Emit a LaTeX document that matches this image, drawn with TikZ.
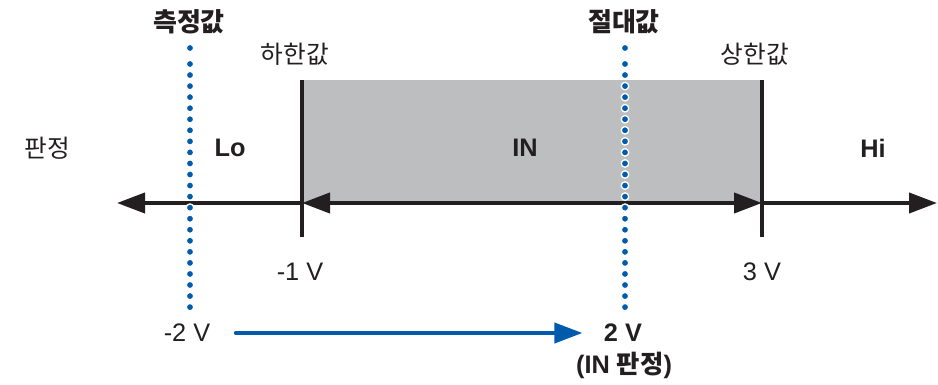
\documentclass[tikz,border=0pt]{standalone}
\usepackage{fontspec}
\setmainfont{Liberation Sans}
\newfontfamily\kr{Noto Sans CJK KR}
\usetikzlibrary{arrows.meta}
\definecolor{boxgray}{HTML}{BCBEC0}
\definecolor{dotblue}{HTML}{005BAC}
\definecolor{ink}{HTML}{231F20}
\begin{document}
\begin{tikzpicture}[x=0.75pt,y=-0.75pt,
  lbl/.style={inner sep=0pt, text=ink, font=\fontsize{19}{22}\selectfont},
  klbl/.style={lbl, font=\fontsize{18.5}{22}\selectfont\kr},
  kbold/.style={lbl, font=\fontsize{19.5}{22}\selectfont\kr\bfseries},
  axis/.style={line width=3pt, draw=ink, -{Triangle[length=21pt,width=15pt]}},
  tick/.style={line width=3pt, draw=ink},
  dot/.style={fill=dotblue, draw=white, line width=1pt},
  bluearrow/.style={line width=3pt, draw=dotblue, line cap=round, -{Triangle[length=21pt,width=15pt]}}]
\useasboundingbox (0,0) rectangle (938,385);

% range of IN
\fill[boxgray] (302,80) rectangle (762,203);

\coordinate (lo) at (302,203);
\coordinate (hi) at (762,203);
\coordinate (farleft) at (117,203);
\coordinate (farright) at (937,203);

\draw[axis] (lo) -- (farleft);
\draw[axis] (hi) -- (farright);
\draw[axis, {Triangle[length=21pt,width=15pt]}-{Triangle[length=21pt,width=15pt]}] (lo) -- (hi);
\draw[tick] (302,80) -- (302,237);
\draw[tick] (762,80) -- (762,237);

% dotted markers
\foreach \xx in {190,625} {
  \path[dot] (\xx,48) circle[radius=2.8pt];
  \foreach \k in {0,...,22}
    \path[dot] (\xx,64+11.05*\k) circle[radius=2.8pt];
}

% labels
\node[kbold] (meas) at (189,22) {측정값};
\node[kbold] (abs) at (624,22) {절대값};
\node[klbl] (lower) at (295,54) {하한값};
\node[klbl] (upper) at (755,54) {상한값};
\node[klbl] (judge) at (47,148) {판정};
\node[lbl, font=\fontsize{19}{22}\selectfont\bfseries] (lozone) at (230,148) {Lo};
\node[lbl, font=\fontsize{19}{22}\selectfont\bfseries] (inzone) at (525,148) {IN};
\node[lbl, font=\fontsize{19}{22}\selectfont\bfseries] (hizone) at (873,148) {Hi};
\node[lbl] (lov) at (300,272) {-1 V};
\node[lbl] (hiv) at (762,272) {3 V};
\node[lbl] (m2) at (187,333) {-2 V};
\node[lbl, font=\fontsize{19}{22}\selectfont\bfseries] (p2) at (623,333) {2 V};
\node[lbl, font=\fontsize{19}{22}\selectfont\bfseries] (res) at (624,365) {(IN {\kr 판정})};

\draw[bluearrow] ([xshift=19pt]m2.east) -- ([xshift=-16pt]p2.west);
\end{tikzpicture}
\end{document}
